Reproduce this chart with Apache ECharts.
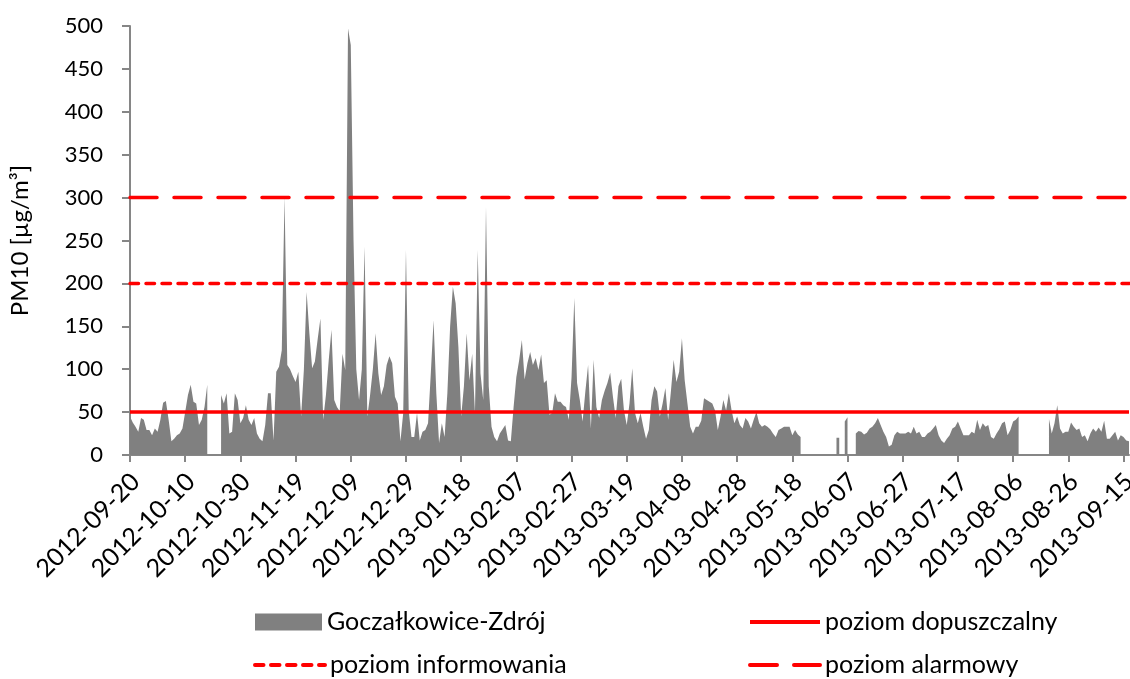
<!doctype html>
<html>
    <head>
        <meta charset="utf-8">
        <title>PM10 - Goczałkowice-Zdrój</title>
        <style>
            html, body { margin: 0; padding: 0; background: #fff; }
            #main { width: 1130px; height: 679px; }
        </style>
    </head>
    <body>
        <div id="main"></div>
        <script src="https://cdn.jsdelivr.net/npm/echarts@6/dist/echarts.min.js"></script>
        <script>
            // first day of the series, one value per day
            var startDate = '2012-09-20';

            // daily PM10 [ug/m3], null = no measurement
            var pm10 = [
                45, 38, 33, 27, 43, 41, 29, 29, 23, 31,
                27, 41, 61, 63, 41, 16, 19, 23, 25, 31,
                50, 70, 82, 62, 60, 35, 41, 56, 82, null,
                null, null, null, 70, 60, 72, 25, 27, 72, 64,
                37, 43, 58, 41, 35, 43, 25, 19, 16, 35,
                72, 72, 17, 97, 103, 122, 301, 105, 100, 92,
                85, 97, 45, 99, 190, 142, 101, 109, 135, 159,
                41, 70, 110, 146, 64, 56, 51, 118, 99, 497,
                478, 250, 100, 64, 100, 243, 45, 70, 100, 142,
                95, 70, 80, 105, 115, 107, 68, 60, 16, 49,
                239, 52, 21, 21, 49, 17, 27, 29, 37, 95,
                157, 72, 14, 37, 21, 72, 150, 196, 177, 126,
                45, 80, 142, 87, 118, 49, 239, 95, 64, 289,
                80, 33, 21, 16, 25, 30, 35, 17, 16, 56,
                91, 110, 134, 88, 107, 120, 105, 113, 99, 117,
                84, 87, 47, 49, 72, 62, 62, 58, 56, 41,
                91, 183, 84, 64, 39, 74, 105, 31, 111, 56,
                43, 64, 75, 84, 96, 68, 43, 80, 89, 52,
                35, 60, 101, 49, 37, 49, 33, 19, 29, 64,
                80, 74, 45, 60, 78, 41, 74, 111, 85, 97,
                136, 87, 60, 33, 25, 33, 33, 40, 66, 64,
                62, 60, 52, 29, 45, 64, 52, 72, 52, 37,
                45, 35, 31, 43, 39, 31, 41, 50, 37, 33,
                35, 33, 30, 25, 21, 29, 31, 33, 33, 33,
                23, 29, 24, 21, null, null, null, null, null, null,
                null, null, null, null, null, null, 20, 20, null, 39,
                44, null, null, 25, 28, 27, 24, 26, 31, 33,
                37, 43, 35, 27, 21, 10, 12, 23, 27, 25,
                25, 25, 27, 25, 33, 25, 27, 21, 21, 25,
                27, 31, 35, 23, 17, 14, 19, 23, 31, 33,
                39, 31, 23, 23, 23, 27, 25, 41, 29, 37,
                33, 35, 21, 19, 25, 30, 37, 39, 23, 29,
                39, 41, 45, null, null, null, null, null, null, null,
                null, null, null, 42, 25, 37, 58, 31, 25, 27,
                27, 38, 33, 29, 31, 21, 23, 16, 25, 31,
                27, 32, 27, 40, 19, 19, 23, 27, 17, 23,
                21, 17, 16
            ];

            // norm levels
            var limitDopuszczalny = 50;
            var limitInformowania = 200;
            var limitAlarmowy = 300;

            var stationName = 'Goczałkowice-Zdrój';

            function pad(n) { return n < 10 ? '0' + n : '' + n; }

            var dates = [];
            var t0 = Date.parse(startDate + 'T00:00:00Z');
            for (var i = 0; i < pm10.length; i++) {
                var d = new Date(t0 + i * 86400000);
                dates.push(d.getUTCFullYear() + '-' + pad(d.getUTCMonth() + 1) + '-' + pad(d.getUTCDate()));
            }

            function flat(v) {
                return dates.map(function () { return v; });
            }

            var font = 'Lato';
            var axisGray = '#868686';

            // one legend box per entry, laid out as a 2x2 grid
            function legendAt(name, left, top, isArea) {
                return {
                    left: left,
                    top: top,
                    padding: 0,
                    itemWidth: isArea ? 67 : 70,
                    itemHeight: 17,
                    itemStyle: isArea ? {} : { opacity: 0 },
                    lineStyle: { width: 4 },
                    textStyle: { fontSize: 25, lineHeight: 30, color: '#000', fontFamily: font },
                    data: [isArea ? { name: name, icon: 'rect' } : name]
                };
            }

            var chart = echarts.init(document.getElementById('main'));

            chart.setOption({
                animation: false,
                textStyle: { fontFamily: font },
                grid: {
                    left: 130,
                    right: 1,
                    top: 26,
                    bottom: 224,
                    containLabel: false,
                    outerBoundsMode: 'none'
                },
                legend: [
                    legendAt(stationName, 255, 607, true),
                    legendAt('poziom dopuszczalny', 748, 607, false),
                    legendAt('poziom informowania', 253, 650, false),
                    legendAt('poziom alarmowy', 748, 650, false)
                ],
                xAxis: {
                    type: 'category',
                    data: dates,
                    boundaryGap: false,
                    axisLine: { lineStyle: { color: axisGray, width: 2 } },
                    axisTick: {
                        interval: 19,
                        length: 7,
                        lineStyle: { color: axisGray, width: 2 }
                    },
                    axisLabel: {
                        interval: 19,
                        rotate: 45,
                        margin: 17,
                        verticalAlign: 'top',
                        lineHeight: 16,
                        fontSize: 25,
                        color: '#000',
                        fontFamily: font
                    },
                    splitLine: { show: false }
                },
                yAxis: {
                    type: 'value',
                    min: 0,
                    max: 500,
                    interval: 50,
                    name: 'PM10 [µg/m³]',
                    nameLocation: 'middle',
                    nameGap: 98,
                    nameTextStyle: { fontSize: 24, color: '#000', fontFamily: font },
                    axisLine: { show: true, lineStyle: { color: axisGray, width: 2 } },
                    axisTick: { show: true, length: 8, lineStyle: { color: axisGray, width: 2 } },
                    axisLabel: { fontSize: 22, color: '#000', margin: 27, fontFamily: font },
                    splitLine: { show: false }
                },
                series: [{
                    name: stationName,
                    type: 'line',
                    data: pm10,
                    showSymbol: false,
                    symbol: 'none',
                    connectNulls: false,
                    itemStyle: { color: '#808080' },
                    lineStyle: { width: 0, opacity: 0 },
                    areaStyle: { color: '#808080', opacity: 1 },
                    z: 1
                }, {
                    name: 'poziom dopuszczalny',
                    type: 'line',
                    data: flat(limitDopuszczalny),
                    symbol: 'none',
                    itemStyle: { color: '#ff0000' },
                    lineStyle: { color: '#ff0000', width: 3.5 },
                    z: 3
                }, {
                    name: 'poziom informowania',
                    type: 'line',
                    data: flat(limitInformowania),
                    symbol: 'none',
                    itemStyle: { color: '#ff0000' },
                    lineStyle: { color: '#ff0000', width: 3.5, type: [8.5, 7.5], cap: 'round' },
                    z: 3
                }, {
                    name: 'poziom alarmowy',
                    type: 'line',
                    data: flat(limitAlarmowy),
                    symbol: 'none',
                    itemStyle: { color: '#ff0000' },
                    lineStyle: { color: '#ff0000', width: 3.5, type: [27, 17], cap: 'round' },
                    z: 3
                }]
            });
        </script>
    </body>
</html>
